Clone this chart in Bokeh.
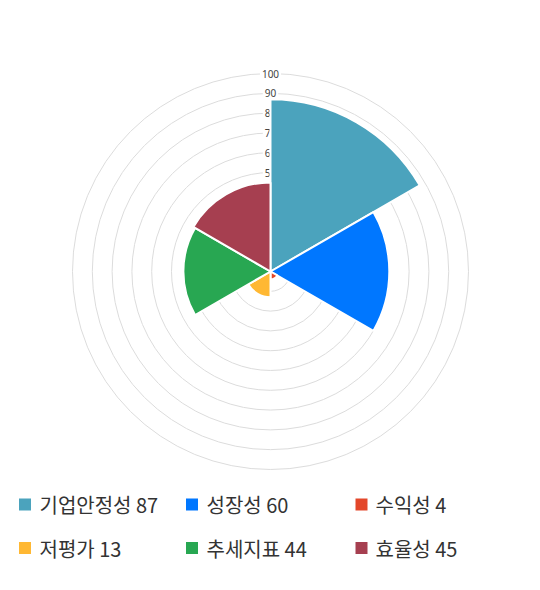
from bokeh.plotting import figure
from bokeh.models import Range1d
from bokeh.embed import file_html
from bokeh.resources import INLINE
from bokeh.core.properties import value

# ---- data ----
categories = ["기업안정성", "성장성", "수익성", "저평가", "추세지표", "효율성"]
scores = [87, 60, 4, 13, 44, 45]
colors = ["#4BA3BD", "#0077FF", "#E3472A", "#FFB833", "#28A752", "#A63F50"]
ring_ticks = [10, 20, 30, 40, 50, 60, 70, 80, 90, 100]
ring_labels = ["10", "20", "30", "40", "50", "60", "70", "80", "90", "100"]

# ---- layout (pixels) ----
W, H = 540, 590
PX = 1.98               # pixels per value unit
CX, CY = 270, 271       # centre in frame pixels (from top-left)

def dx(px):
    return (px - CX) / PX

def dy(py):
    return (CY - py) / PX

p = figure(width=W, height=H, output_backend="svg", toolbar_location=None,
           x_range=Range1d(-CX / PX, (W - CX) / PX),
           y_range=Range1d(-(H - CY) / PX, CY / PX),
           min_border=0, outline_line_color=None)
p.axis.visible = False
p.grid.visible = False
p.background_fill_color = "white"
p.border_fill_color = "white"

# grid rings
p.circle(x=[0] * len(ring_ticks), y=[0] * len(ring_ticks), radius=ring_ticks,
         fill_color=None, line_color="#dcdcdc", line_width=1)

# ring labels
p.text(x=[0] * len(ring_ticks), y=ring_ticks, text=ring_labels,
       text_align="center", text_baseline="middle",
       text_font=value("Noto Sans"), text_font_size="10px", text_color="#444444",
       background_fill_color="white", padding=2)

# sectors, clockwise from top
n = len(categories)
step = 360.0 / n
starts = [90 - step * i for i in range(n)]
ends = [90 - step * (i + 1) for i in range(n)]
p.wedge(x=[0] * n, y=[0] * n, radius=scores, start_angle=starts, end_angle=ends,
        start_angle_units="deg", end_angle_units="deg", direction="clock",
        fill_color=colors, line_color="white", line_width=2)

# legend
col_sq = [24.5, 191.5, 361]
col_tx = [39, 206, 375]
row_y = [504, 547.5]
sq_x, sq_y, tx_x, tx_y, labels = [], [], [], [], []
for i, (c, s) in enumerate(zip(categories, scores)):
    r, k = divmod(i, 3)
    sq_x.append(dx(col_sq[k])); sq_y.append(dy(row_y[r]))
    tx_x.append(dx(col_tx[k])); tx_y.append(dy(row_y[r]))
    labels.append(f"{c} {s}")
p.scatter(x=sq_x, y=sq_y, marker="square", size=12, fill_color=colors, line_color=None)
p.text(x=tx_x, y=tx_y, text=labels, text_align="left", text_baseline="middle",
       text_font=value("Noto Sans CJK KR"), text_font_size="20px", text_color="#333333")

open("out.html", "w").write(file_html(p, INLINE))
